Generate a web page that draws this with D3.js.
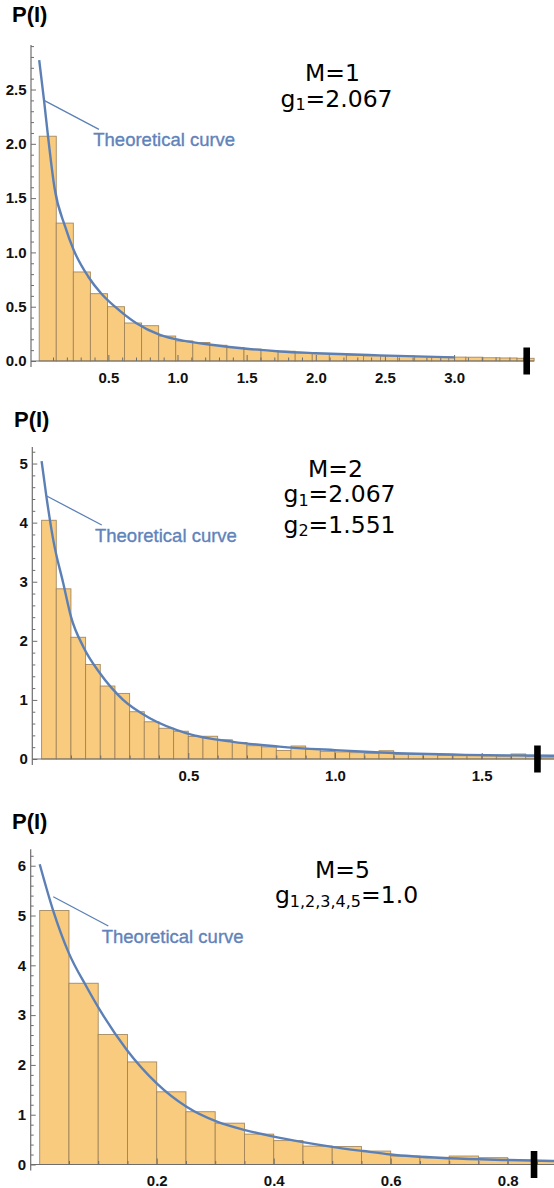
<!DOCTYPE html>
<html><head><meta charset="utf-8">
<script src="https://cdn.jsdelivr.net/npm/d3@7"></script>
<style>body{margin:0;background:#fff} svg{display:block}</style>
</head><body>
<svg id="c" width="554" height="1188"></svg>
<script>
// ---------------- data ----------------
// Panel 1 (M=1)
const binWidth1 = 0.1234;
const counts1 = [2.07,1.27,0.82,0.62,0.50,0.35,0.325,0.23,0.185,0.17,0.145,0.125,0.11,0.097,0.09,0.078,0.07,0.064,0.055,0.048,0.046,0.045,0.04,0.038,0.036,0.035,0.03,0.028,0.025];
const curve1I = [0,0.035,0.061,0.11,0.187,0.25,0.355,0.45,0.548,0.7,0.873,1.05,1.259,1.5,1.74,2.0,2.46,3.0];
const curve1P = [2.77,2.40,2.10,1.60,1.24,1.02,0.776,0.62,0.50,0.35,0.24,0.185,0.147,0.113,0.088,0.072,0.052,0.033];
const xMajor1 = [0.5,1.0,1.5,2.0,2.5,3.0];
const xLabels1 = ["0.5","1.0","1.5","2.0","2.5","3.0"];
const yMajor1 = [0,0.5,1.0,1.5,2.0,2.5];
const yLabels1 = ["0.0","0.5","1.0","1.5","2.0","2.5"];
const info1 = ["M=1", "g|1|=2.067"];

// Panel 2 (M=2)
const binWidth2 = 0.05;
const counts2 = [4.04,2.88,2.06,1.60,1.235,1.11,0.80,0.63,0.52,0.47,0.38,0.385,0.325,0.28,0.225,0.205,0.145,0.22,0.165,0.13,0.12,0.107,0.096,0.14,0.08,0.08,0.085,0.063,0.055,0.055,0.05,0.04,0.085,0.04,0.03,0.03];
const curve2I = [0,0.017,0.04,0.074,0.10,0.142,0.199,0.278,0.369,0.495,0.653,0.81,1.0,1.155,1.443,1.74,1.8];
const curve2P = [5.04,4.42,3.70,2.97,2.41,1.90,1.45,1.00,0.69,0.435,0.29,0.21,0.15,0.11,0.07,0.056,0.054];
const xMajor2 = [0.5,1.0,1.5];
const xLabels2 = ["0.5","1.0","1.5"];
const yMajor2 = [0,1,2,3,4,5];
const yLabels2 = ["0","1","2","3","4","5"];
const info2 = ["M=2", "g|1|=2.067", "g|2|=1.551"];

// Panel 3 (M=5)
const binWidth3 = 0.05;
const counts3 = [5.10,3.64,2.61,2.06,1.46,1.06,0.83,0.61,0.48,0.37,0.36,0.27,0.17,0.145,0.17,0.137,0.09,0.06];
const curve3I = [0,0.023,0.05,0.08,0.103,0.149,0.2,0.251,0.303,0.351,0.40,0.45,0.50,0.553,0.6,0.7,0.8,0.877,0.9];
const curve3P = [6.03,5.10,4.24,3.57,3.10,2.30,1.63,1.16,0.86,0.69,0.56,0.45,0.355,0.27,0.20,0.125,0.09,0.07,0.065];
const xMajor3 = [0.2,0.4,0.6,0.8];
const xLabels3 = ["0.2","0.4","0.6","0.8"];
const yMajor3 = [0,1,2,3,4,5,6];
const yLabels3 = ["0","1","2","3","4","5","6"];
const info3 = ["M=5", "g|1,2,3,4,5|=1.0"];

const calloutText = "Theoretical curve";
const yTitle = "P(I)";
// cut-off markers (I value) and callout anchors (I, P)
const markerI = [3.525, 1.69, 0.845];
const calloutFrom = [[0.035,2.40],[0.0174,4.45],[0.0232,5.378]];
const calloutTo = [[0.432,2.133],[0.205,3.96],[0.1173,4.789]];
const calloutLabelAt = [[0.391,1.98],[0.182,3.677],[0.106,4.44]];

// ---------------- layout ----------------
const panels = [
  {w:binWidth1, counts:counts1, cI:curve1I, cP:curve1P, xM:xMajor1, xL:xLabels1, yM:yMajor1, yL:yLabels1, info:info1,
   xDom:[-0.0593,3.585], xRng:[31,535], yDom:[0,2.91], yRng:[361,45], xMinor:0.1, xMinorMax:3.5, yMinor:0.1, yMinorMax:2.9,
   title:[12,22], infoX:[332.5,336.5], infoY:[81,106.7]},
  {w:binWidth2, counts:counts2, cI:curve2I, cP:curve2P, xM:xMajor2, xL:xLabels2, yM:yMajor2, yL:yLabels2, info:info2,
   xDom:[-0.0317,1.84], xRng:[32.3,32.3+1.8717*293.4], yDom:[0,5.28], yRng:[759,447], xMinor:0.1, xMinorMax:1.8, yMinor:0.2, yMinorMax:5.2,
   title:[14,427], infoX:[335.5,339.5,339.5], infoY:[477.3,502.3,532.7]},
  {w:binWidth3, counts:counts3, cI:curve3I, cP:curve3P, xM:xMajor3, xL:xLabels3, yM:yMajor3, yL:yLabels3, info:info3,
   xDom:[-0.0154,0.93], xRng:[30.7,30.7+0.9454*585], yDom:[0,6.33], yRng:[1164.5,849.3], xMinor:0.05, xMinorMax:0.9, yMinor:0.2, yMinorMax:6.2,
   title:[12,828.5], infoX:[342.5,346.5], infoY:[878.3,903.3]}
];

const svg = d3.select("#c");
const blue = "#5c80b6";
const axisCol = "#6e6e6e";
const tickFont = "Liberation Sans, Arial, sans-serif";

panels.forEach((p, k) => {
  const x = d3.scaleLinear().domain(p.xDom).range(p.xRng);
  const y = d3.scaleLinear().domain(p.yDom).range(p.yRng);
  const g = svg.append("g");
  const y0 = y(0);

  // bars
  g.append("g").selectAll("rect").data(p.counts).join("rect")
    .attr("x", (d,i) => x(i*p.w))
    .attr("width", (d,i) => x((i+1)*p.w) - x(i*p.w))
    .attr("y", d => y(d))
    .attr("height", d => y0 - y(d))
    .attr("fill", "#f9cb7e")
    .attr("stroke", "#9b7f56")
    .attr("stroke-opacity", 0.9)
    .attr("stroke-width", 0.9);

  // x axis: minor ticks
  const xMinorVals = d3.range(1, Math.round(p.xMinorMax/p.xMinor)+1).map(i => +(i*p.xMinor).toFixed(4));
  const gxm = g.append("g").attr("transform", `translate(0,${y0})`)
    .call(d3.axisBottom(x).tickValues(xMinorVals.filter(v => !p.xM.some(m => Math.abs(m-v)<1e-6))).tickSize(-3.5).tickFormat(""));
  gxm.select(".domain").remove();
  gxm.selectAll("line").attr("stroke", axisCol);
  const gx = g.append("g").attr("transform", `translate(0,${y0})`)
    .call(d3.axisBottom(x).tickValues(p.xM).tickSize(-6).tickPadding(11).tickFormat((d,i) => p.xL[i]));
  gx.select(".domain").remove();
  gx.selectAll("line").attr("stroke", axisCol);
  gx.selectAll("text").attr("font-family",tickFont).attr("font-weight","bold").attr("font-size",15).attr("fill","#111");
  g.append("line").attr("x1", p.xRng[0]).attr("x2", x(p.counts.length*p.w)).attr("y1", y0).attr("y2", y0)
    .attr("stroke", axisCol).attr("stroke-width", 1.2);

  // y axis
  const yMinorVals = d3.range(1, Math.round(p.yMinorMax/p.yMinor)+1).map(i => +(i*p.yMinor).toFixed(4));
  const gym = g.append("g").attr("transform", `translate(${p.xRng[0]},0)`)
    .call(d3.axisLeft(y).tickValues(yMinorVals.filter(v => !p.yM.some(m => Math.abs(m-v)<1e-6))).tickSize(-3).tickFormat(""));
  gym.select(".domain").remove();
  gym.selectAll("line").attr("stroke", axisCol);
  const gy = g.append("g").attr("transform", `translate(${p.xRng[0]},0)`)
    .call(d3.axisLeft(y).tickValues(p.yM).tickSize(-5).tickPadding(4.5).tickFormat((d,i) => p.yL[i]));
  gy.select(".domain").remove();
  gy.selectAll("line").attr("stroke", axisCol);
  gy.selectAll("text").attr("font-family",tickFont).attr("font-weight","bold").attr("font-size",15).attr("fill","#111");
  g.append("line").attr("x1", p.xRng[0]).attr("x2", p.xRng[0]).attr("y1", y(p.yDom[1])).attr("y2", y0 + 6)
    .attr("stroke", axisCol).attr("stroke-width", 1.2);

  // theoretical curve
  const pts = p.cI.map((v,i) => [v, p.cP[i]]);
  g.append("path").datum(pts)
    .attr("d", d3.line().x(d => x(d[0])).y(d => y(d[1])).curve(d3.curveMonotoneX))
    .attr("fill","none").attr("stroke", blue).attr("stroke-width", 2.4);

  // callout
  g.append("line")
    .attr("x1", x(calloutFrom[k][0])).attr("y1", y(calloutFrom[k][1]))
    .attr("x2", x(calloutTo[k][0])).attr("y2", y(calloutTo[k][1]))
    .attr("stroke", blue).attr("stroke-width", 1.3);
  g.append("text").attr("x", x(calloutLabelAt[k][0])).attr("y", y(calloutLabelAt[k][1]))
    .attr("font-family","Liberation Sans, Arial, sans-serif").attr("font-size",18.5)
    .attr("fill", "#5f83ba").attr("stroke", "#5f83ba").attr("stroke-width", 0.35).text(calloutText);

  // cut-off marker
  g.append("rect").attr("x", x(markerI[k]) - 3.3).attr("width", 6.6)
    .attr("y", y0 - 13.5).attr("height", 27).attr("fill", "#000");

  // title
  g.append("text").attr("x", p.title[0]).attr("y", p.title[1])
    .attr("font-family",tickFont).attr("font-weight","bold").attr("font-size",22)
    .attr("fill","#000").text(yTitle);

  // info text
  p.info.forEach((s, j) => {
    const parts = s.split("|");
    const t = g.append("text").attr("x", p.infoX[j]).attr("y", p.infoY[j]).attr("text-anchor","middle")
      .attr("font-family","DejaVu Sans, sans-serif").attr("font-size",23.5).attr("fill","#000");
    if (parts.length === 1) { t.text(s); }
    else {
      t.append("tspan").text(parts[0]);
      t.append("tspan").attr("font-size",16).attr("dy",3.5).text(parts[1]);
      t.append("tspan").attr("dy",-3.5).text(parts[2]);
    }
  });
});
</script>
</body></html>
